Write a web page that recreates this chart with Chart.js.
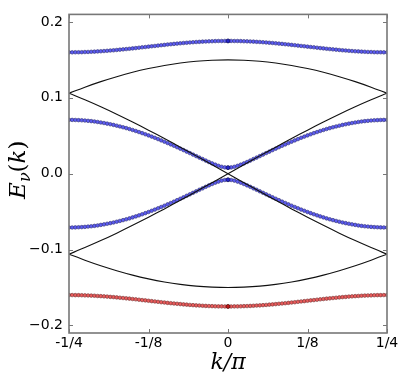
<!DOCTYPE html>
<html>
<head>
<meta charset="utf-8">
<script src="https://cdn.jsdelivr.net/npm/chart.js@4/dist/chart.umd.min.js"></script>
<style>
  html, body { margin: 0; padding: 0; background: #fff; }
  canvas { display: block; }
</style>
</head>
<body>
<canvas id="bandChart" width="404" height="382"></canvas>
<script>
// k / pi grid of the dotted bands
const kDots = [
  -0.250,-0.245,-0.240,-0.235,-0.230,-0.225,-0.220,-0.215,-0.210,-0.205,
  -0.200,-0.195,-0.190,-0.185,-0.180,-0.175,-0.170,-0.165,-0.160,-0.155,
  -0.150,-0.145,-0.140,-0.135,-0.130,-0.125,-0.120,-0.115,-0.110,-0.105,
  -0.100,-0.095,-0.090,-0.085,-0.080,-0.075,-0.070,-0.065,-0.060,-0.055,
  -0.050,-0.045,-0.040,-0.035,-0.030,-0.025,-0.020,-0.015,-0.010,-0.005,
  0,
  0.005,0.010,0.015,0.020,0.025,0.030,0.035,0.040,0.045,0.050,
  0.055,0.060,0.065,0.070,0.075,0.080,0.085,0.090,0.095,0.100,
  0.105,0.110,0.115,0.120,0.125,0.130,0.135,0.140,0.145,0.150,
  0.155,0.160,0.165,0.170,0.175,0.180,0.185,0.190,0.195,0.200,
  0.205,0.210,0.215,0.220,0.225,0.230,0.235,0.240,0.245,0.250
];

// top blue band
const bandTop = [
  0.1600,0.1600,0.1601,0.1601,0.1602,0.1604,0.1605,0.1607,0.1609,0.1612,
  0.1614,0.1617,0.1620,0.1624,0.1627,0.1631,0.1635,0.1639,0.1643,0.1647,
  0.1652,0.1656,0.1661,0.1666,0.1670,0.1675,0.1680,0.1684,0.1689,0.1694,
  0.1698,0.1703,0.1707,0.1711,0.1715,0.1719,0.1723,0.1726,0.1730,0.1733,
  0.1736,0.1738,0.1741,0.1743,0.1745,0.1746,0.1748,0.1749,0.1749,0.1750,
  0.1750,
  0.1750,0.1749,0.1749,0.1748,0.1746,0.1745,0.1743,0.1741,0.1738,0.1736,
  0.1733,0.1730,0.1726,0.1723,0.1719,0.1715,0.1711,0.1707,0.1703,0.1698,
  0.1694,0.1689,0.1684,0.1680,0.1675,0.1670,0.1666,0.1661,0.1656,0.1652,
  0.1647,0.1643,0.1639,0.1635,0.1631,0.1627,0.1624,0.1620,0.1617,0.1614,
  0.1612,0.1609,0.1607,0.1605,0.1604,0.1602,0.1601,0.1601,0.1600,0.1600
];

// upper inner blue band
const bandUpper = [
  0.0710,0.0709,0.0708,0.0706,0.0704,0.0701,0.0697,0.0693,0.0688,0.0682,
  0.0675,0.0668,0.0660,0.0652,0.0643,0.0633,0.0623,0.0612,0.0601,0.0589,
  0.0576,0.0563,0.0549,0.0535,0.0520,0.0505,0.0489,0.0473,0.0456,0.0439,
  0.0422,0.0404,0.0386,0.0368,0.0349,0.0330,0.0311,0.0291,0.0272,0.0252,
  0.0232,0.0212,0.0193,0.0173,0.0154,0.0136,0.0119,0.0104,0.0091,0.0083,
  0.0080,
  0.0083,0.0091,0.0104,0.0119,0.0136,0.0154,0.0173,0.0193,0.0212,0.0232,
  0.0252,0.0272,0.0291,0.0311,0.0330,0.0349,0.0368,0.0386,0.0404,0.0422,
  0.0439,0.0456,0.0473,0.0489,0.0505,0.0520,0.0535,0.0549,0.0563,0.0576,
  0.0589,0.0601,0.0612,0.0623,0.0633,0.0643,0.0652,0.0660,0.0668,0.0675,
  0.0682,0.0688,0.0693,0.0697,0.0701,0.0704,0.0706,0.0708,0.0709,0.0710
];

// lower inner blue band
const bandLower = [
  -0.0710,-0.0709,-0.0708,-0.0706,-0.0704,-0.0701,-0.0697,-0.0693,-0.0688,-0.0682,
  -0.0675,-0.0668,-0.0660,-0.0652,-0.0643,-0.0633,-0.0623,-0.0612,-0.0601,-0.0589,
  -0.0576,-0.0563,-0.0549,-0.0535,-0.0520,-0.0505,-0.0489,-0.0473,-0.0456,-0.0439,
  -0.0422,-0.0404,-0.0386,-0.0368,-0.0349,-0.0330,-0.0311,-0.0291,-0.0272,-0.0252,
  -0.0232,-0.0212,-0.0193,-0.0173,-0.0154,-0.0136,-0.0119,-0.0104,-0.0091,-0.0083,
  -0.0080,
  -0.0083,-0.0091,-0.0104,-0.0119,-0.0136,-0.0154,-0.0173,-0.0193,-0.0212,-0.0232,
  -0.0252,-0.0272,-0.0291,-0.0311,-0.0330,-0.0349,-0.0368,-0.0386,-0.0404,-0.0422,
  -0.0439,-0.0456,-0.0473,-0.0489,-0.0505,-0.0520,-0.0535,-0.0549,-0.0563,-0.0576,
  -0.0589,-0.0601,-0.0612,-0.0623,-0.0633,-0.0643,-0.0652,-0.0660,-0.0668,-0.0675,
  -0.0682,-0.0688,-0.0693,-0.0697,-0.0701,-0.0704,-0.0706,-0.0708,-0.0709,-0.0710
];

// bottom red band
const bandBottom = [
  -0.1600,-0.1600,-0.1601,-0.1601,-0.1602,-0.1604,-0.1605,-0.1607,-0.1609,-0.1612,
  -0.1614,-0.1617,-0.1620,-0.1624,-0.1627,-0.1631,-0.1635,-0.1639,-0.1643,-0.1647,
  -0.1652,-0.1656,-0.1661,-0.1666,-0.1670,-0.1675,-0.1680,-0.1684,-0.1689,-0.1694,
  -0.1698,-0.1703,-0.1707,-0.1711,-0.1715,-0.1719,-0.1723,-0.1726,-0.1730,-0.1733,
  -0.1736,-0.1738,-0.1741,-0.1743,-0.1745,-0.1746,-0.1748,-0.1749,-0.1749,-0.1750,
  -0.1750,
  -0.1750,-0.1749,-0.1749,-0.1748,-0.1746,-0.1745,-0.1743,-0.1741,-0.1738,-0.1736,
  -0.1733,-0.1730,-0.1726,-0.1723,-0.1719,-0.1715,-0.1711,-0.1707,-0.1703,-0.1698,
  -0.1694,-0.1689,-0.1684,-0.1680,-0.1675,-0.1670,-0.1666,-0.1661,-0.1656,-0.1652,
  -0.1647,-0.1643,-0.1639,-0.1635,-0.1631,-0.1627,-0.1624,-0.1620,-0.1617,-0.1614,
  -0.1612,-0.1609,-0.1607,-0.1605,-0.1604,-0.1602,-0.1601,-0.1601,-0.1600,-0.1600
];

// darker marker at k = 0
const kCentre = [0, 0, 0];
const centreBlue = [0.1750, 0.0080, -0.0080];
const centreRed = [-0.1750];

// black (uncoupled) bands
const kLine = [
  -0.250,-0.225,-0.200,-0.175,-0.150,-0.125,-0.100,-0.075,-0.050,-0.025,
  0,
  0.025,0.050,0.075,0.100,0.125,0.150,0.175,0.200,0.225,0.250
];
const archUp = [
  0.1061,0.1141,0.1214,0.1279,0.1337,0.1386,0.1427,0.1459,0.1482,0.1495,
  0.1500,
  0.1495,0.1482,0.1459,0.1427,0.1386,0.1337,0.1279,0.1214,0.1141,0.1061
];
const archDown = [
  -0.1061,-0.1141,-0.1214,-0.1279,-0.1337,-0.1386,-0.1427,-0.1459,-0.1482,-0.1495,
  -0.1500,
  -0.1495,-0.1482,-0.1459,-0.1427,-0.1386,-0.1337,-0.1279,-0.1214,-0.1141,-0.1061
];
const crossFall = [
  0.1061,0.0974,0.0882,0.0784,0.0681,0.0574,0.0464,0.0350,0.0235,0.0118,
  0,
  -0.0118,-0.0235,-0.0350,-0.0464,-0.0574,-0.0681,-0.0784,-0.0882,-0.0974,-0.1061
];
const crossRise = [
  -0.1061,-0.0974,-0.0882,-0.0784,-0.0681,-0.0574,-0.0464,-0.0350,-0.0235,-0.0118,
  0,
  0.0118,0.0235,0.0350,0.0464,0.0574,0.0681,0.0784,0.0882,0.0974,0.1061
];

const xTicks = [-0.25, -0.125, 0, 0.125, 0.25];
const xTickLabels = ['-1/4', '-1/8', '0', '1/8', '1/4'];
const yTicks = [-0.2, -0.1, 0, 0.1, 0.2];

const pts = (xs, ys) => ys.map((y, i) => ({ x: xs[i], y: y }));

const lineSet = (ys) => ({
    data: pts(kLine, ys),
    showLine: true,
    borderColor: '#111',
    borderWidth: 1.1,
    pointRadius: 0,
    tension: 0.3,
    fill: false
});
const dotSet = (ys, xs, fill, edge, r) => ({
    data: pts(xs, ys),
    showLine: false,
    pointRadius: r,
    pointBackgroundColor: fill,
    pointBorderColor: edge,
    pointBorderWidth: 0.6
});

// frame + inward ticks on all four sides, like the matplotlib axes
const frameTicks = {
    id: 'frameTicks',
    afterDatasetsDraw(chart) {
        const { ctx, chartArea: a, scales } = chart;
        ctx.save();
        ctx.strokeStyle = '#777';
        ctx.lineWidth = 1;
        ctx.beginPath();
        xTicks.forEach(v => {
            const px = Math.round(scales.x.getPixelForValue(v)) + 0.5;
            ctx.moveTo(px, a.bottom); ctx.lineTo(px, a.bottom - 4);
            ctx.moveTo(px, a.top); ctx.lineTo(px, a.top + 4);
        });
        yTicks.forEach(v => {
            const py = Math.round(scales.y.getPixelForValue(v)) + 0.5;
            ctx.moveTo(a.left, py); ctx.lineTo(a.left + 4, py);
            ctx.moveTo(a.right, py); ctx.lineTo(a.right - 4, py);
        });
        ctx.stroke();
        ctx.lineWidth = 1.6;
        ctx.strokeRect(a.left, a.top, a.right - a.left, a.bottom - a.top);
        ctx.restore();
    },
    afterDraw(chart) {
        // y title E_nu(k) with a real subscript
        const { ctx, chartArea: a } = chart;
        const big = "italic 23px 'DejaVu Serif'";
        const up = "23px 'DejaVu Serif'";
        const small = "italic 16px 'DejaVu Serif'";
        ctx.save();
        ctx.translate(18, (a.top + a.bottom) / 2 - 4);
        ctx.rotate(-Math.PI / 2);
        ctx.fillStyle = '#000';
        ctx.textBaseline = 'alphabetic';
        const parts = [['E', big, 7], ['ν', small, 12], ['(', up, 7], ['k', big, 7], [')', up, 7]];
        let w = 0;
        parts.forEach(p => { ctx.font = p[1]; p.push(ctx.measureText(p[0]).width); w += p[3]; });
        let x = -w / 2;
        parts.forEach(p => { ctx.font = p[1]; ctx.fillText(p[0], x, p[2]); x += p[3]; });
        ctx.restore();
    }
};

const bandChart = new Chart(document.getElementById('bandChart'), {
    type: 'scatter',
    data: {
        datasets: [
            lineSet(archUp),
            lineSet(archDown),
            lineSet(crossFall),
            lineSet(crossRise),
            dotSet(centreBlue, kCentre, '#2424c8', '#10104a', 2),
            dotSet(centreRed, [0], '#c01818', '#400a0a', 2),
            dotSet(bandTop, kDots, '#5c5cf2', '#2e2e70', 1.8),
            dotSet(bandUpper, kDots, '#5c5cf2', '#2e2e70', 1.8),
            dotSet(bandLower, kDots, '#5c5cf2', '#2e2e70', 1.8),
            dotSet(bandBottom, kDots, '#ea5c5c', '#702e2e', 1.8)
        ]
    },
    options: {
        responsive: false,
        animation: false,
        layout: { padding: { left: 0, right: 17, top: 5, bottom: 0 } },
        plugins: {
            legend: { display: false },
            tooltip: { enabled: false }
        },
        scales: {
            x: {
                type: 'linear',
                min: -0.25,
                max: 0.25,
                grid: { display: false, drawTicks: false },
                border: { display: false },
                afterBuildTicks: s => { s.ticks = xTicks.map(v => ({ value: v })); },
                afterFit: s => { s.height = 49; },
                ticks: {
                    padding: 2,
                    color: '#000',
                    font: { family: 'DejaVu Sans', size: 14 },
                    maxRotation: 0,
                    callback: v => xTickLabels[xTicks.indexOf(v)]
                },
                title: {
                    display: true,
                    text: 'k/π',
                    color: '#000',
                    font: { family: 'DejaVu Serif', style: 'italic', size: 22 },
                    padding: { top: 0, bottom: 6 }
                }
            },
            y: {
                type: 'linear',
                min: -0.21,
                max: 0.21,
                grid: { display: false, drawTicks: false },
                border: { display: false },
                afterBuildTicks: s => { s.ticks = yTicks.map(v => ({ value: v })); },
                afterFit: s => { s.width = 69; },
                ticks: {
                    padding: 6,
                    color: '#000',
                    font: { family: 'DejaVu Sans', size: 14 },
                    callback: v => (Math.abs(v) < 1e-9 ? '0.0' : v.toFixed(1).replace('-', '\u2212'))
                }
            }
        }
    },
    plugins: [frameTicks]
});
</script>
</body>
</html>
